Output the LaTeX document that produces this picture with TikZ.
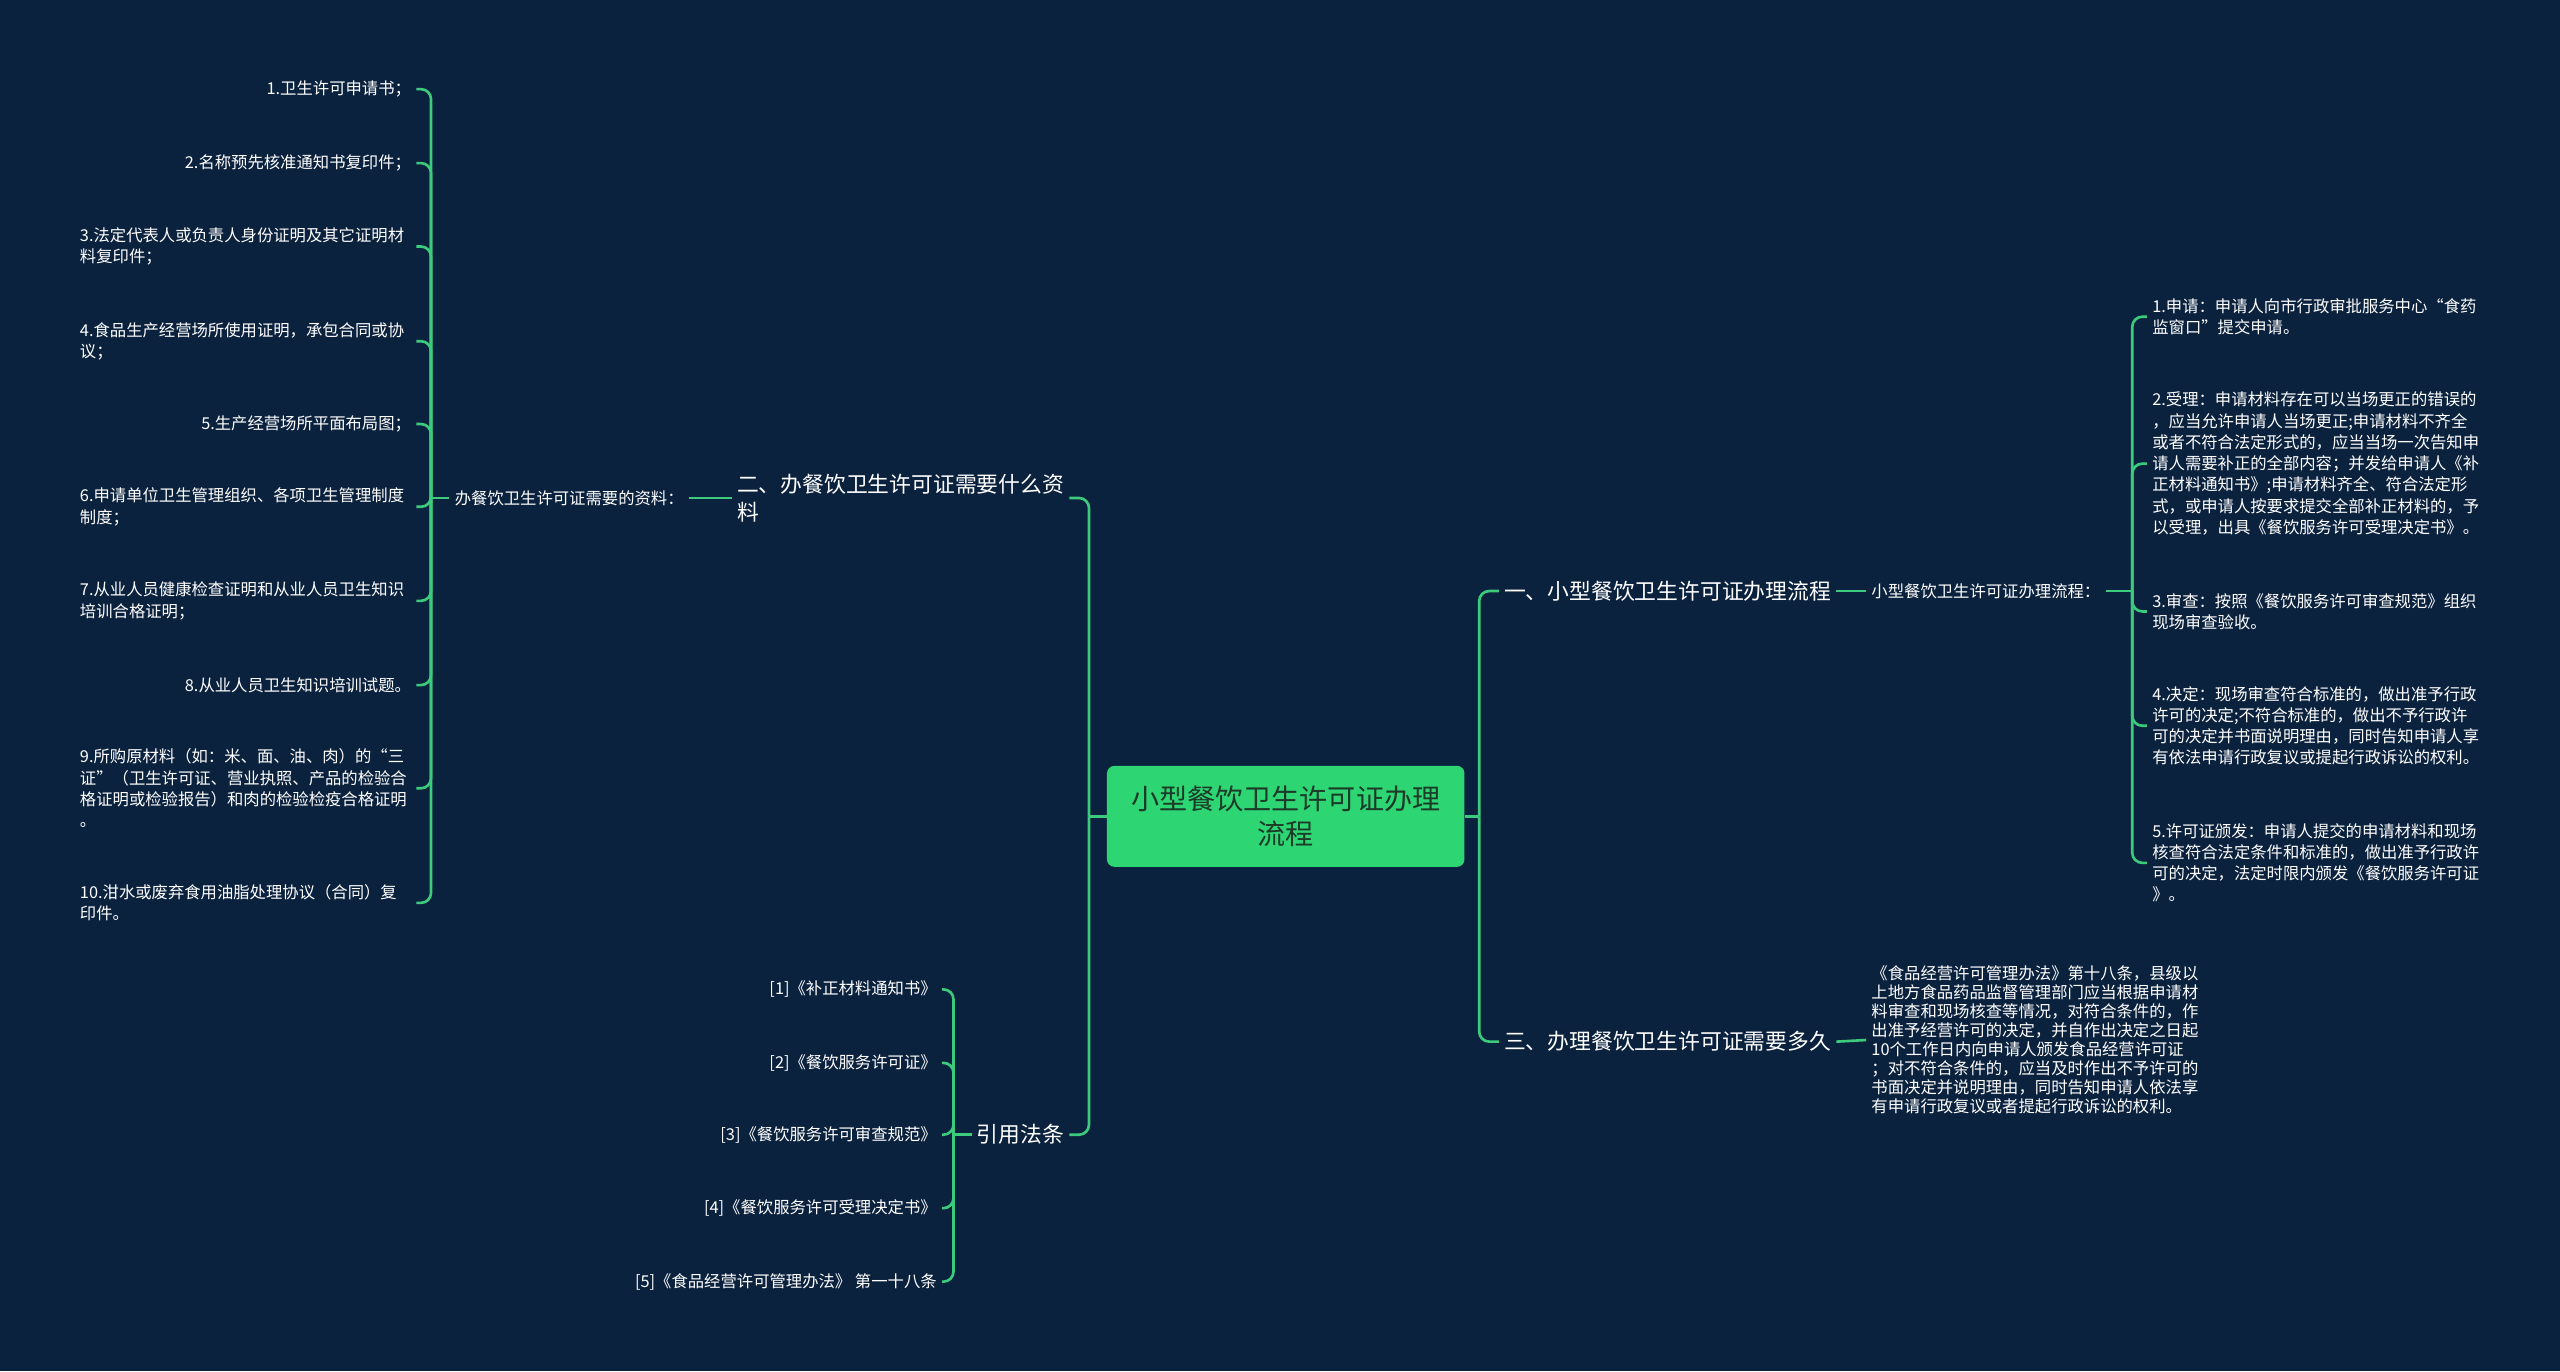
\documentclass[tikz,border=0pt]{standalone}
\usepackage{fontspec}
\setmainfont{Noto Sans CJK SC}
\usepackage{tikz}

\definecolor{bgnavy}{HTML}{0B223E}
\definecolor{rootgreen}{HTML}{2ED573}
\definecolor{linkgreen}{HTML}{3CCB7C}
\definecolor{roottext}{HTML}{1B3A28}

\begin{document}
\begin{tikzpicture}[x=0.032653cm, y=-0.032653cm,
    root/.style={rectangle, rounded corners=0.15cm, fill=rootgreen, text=roottext, align=center,
        minimum width=7.15cm, minimum height=2.02cm, font=\fontsize{16}{20.4}\selectfont},
    topic/.style={text=white, align=left, inner sep=0.1cm, font=\fontsize{12.4}{15.8}\selectfont},
    leaf/.style={text=white, align=left, inner sep=0.1cm, font=\fontsize{9.3}{12.1}\selectfont},
    wideleaf/.style={leaf, text width=6.62cm},
    link/.style={draw=linkgreen, line width=1.5pt, rounded corners=0.2cm}]

    % Background
    \fill[bgnavy] (0,0) rectangle (1568,840);
    \useasboundingbox (0,0) rectangle (1568,840);

    % Define root
    \node[root] (root) at (787.5,500) {小型餐饮卫生许可证办理\\流程};

    % Define right topics
    \node[topic, anchor=west] (r1) at (918,362) {一、小型餐饮卫生许可证办理流程};
    \node[topic, anchor=west] (r3) at (918,638) {三、办理餐饮卫生许可证需要多久};
    \node[leaf, anchor=west] (m1) at (1143,362) {小型餐饮卫生许可证办理流程：};
    \node[leaf, anchor=west, font=\fontsize{9.3}{10.8}\selectfont] (n3) at (1143,637)
        {《食品经营许可管理办法》第十八条，县级以\\上地方食品药品监督管理部门应当根据申请材\\料审查和现场核查等情况，对符合条件的，作\\出准予经营许可的决定，并自作出决定之日起\\10个工作日内向申请人颁发食品经营许可证\\；对不符合条件的，应当及时作出不予许可的\\书面决定并说明理由，同时告知申请人依法享\\有申请行政复议或者提起行政诉讼的权利。};

    % Define process steps
    \node[leaf, anchor=west] (a1) at (1315,194) {1.申请：申请人向市行政审批服务中心“食药\\监窗口”提交申请。};
    \node[leaf, anchor=west] (a2) at (1315,284) {2.受理：申请材料存在可以当场更正的错误的\\，应当允许申请人当场更正;申请材料不齐全\\或者不符合法定形式的，应当当场一次告知申\\请人需要补正的全部内容；并发给申请人《补\\正材料通知书》;申请材料齐全、符合法定形\\式，或申请人按要求提交全部补正材料的，予\\以受理，出具《餐饮服务许可受理决定书》。};
    \node[leaf, anchor=west] (a3) at (1315,374.5) {3.审查：按照《餐饮服务许可审查规范》组织\\现场审查验收。};
    \node[leaf, anchor=west] (a4) at (1315,444.5) {4.决定：现场审查符合标准的，做出准予行政\\许可的决定;不符合标准的，做出不予行政许\\可的决定并书面说明理由，同时告知申请人享\\有依法申请行政复议或提起行政诉讼的权利。};
    \node[leaf, anchor=west] (a5) at (1315,528.5) {5.许可证颁发：申请人提交的申请材料和现场\\核查符合法定条件和标准的，做出准予行政许\\可的决定，法定时限内颁发《餐饮服务许可证\\》。};

    % Define left topics
    \node[topic, anchor=east] (l1) at (655,305) {二、办餐饮卫生许可证需要什么资\\料};
    \node[topic, anchor=east] (l2) at (655,695) {引用法条};
    \node[leaf, anchor=east] (m2) at (422,305) {办餐饮卫生许可证需要的资料：};

    % Define materials
    \node[leaf, anchor=east] (b1) at (255,54.6) {1.卫生许可申请书；};
    \node[leaf, anchor=east] (b2) at (255,99.9) {2.名称预先核准通知书复印件；};
    \node[wideleaf, anchor=east] (b3) at (255,151) {3.法定代表人或负责人身份证明及其它证明材\\料复印件；};
    \node[wideleaf, anchor=east] (b4) at (255,209) {4.食品生产经营场所使用证明，承包合同或协\\议；};
    \node[leaf, anchor=east] (b5) at (255,259.7) {5.生产经营场所平面布局图；};
    \node[wideleaf, anchor=east] (b6) at (255,310.4) {6.申请单位卫生管理组织、各项卫生管理制度\\制度；};
    \node[wideleaf, anchor=east] (b7) at (255,368) {7.从业人员健康检查证明和从业人员卫生知识\\培训合格证明；};
    \node[leaf, anchor=east] (b8) at (255,419.6) {8.从业人员卫生知识培训试题。};
    \node[wideleaf, anchor=east] (b9) at (255,482.8) {9.所购原材料（如：米、面、油、肉）的“三\\证”（卫生许可证、营业执照、产品的检验合\\格证明或检验报告）和肉的检验检疫合格证明\\。};
    \node[wideleaf, anchor=east] (b10) at (255,553) {10.泔水或废弃食用油脂处理协议（合同）复\\印件。};

    % Define citations
    \node[leaf, anchor=east] (c1) at (577,606) {[1]《补正材料通知书》};
    \node[leaf, anchor=east] (c2) at (577,651) {[2]《餐饮服务许可证》};
    \node[leaf, anchor=east] (c3) at (577,695) {[3]《餐饮服务许可审查规范》};
    \node[leaf, anchor=east] (c4) at (577,740) {[4]《餐饮服务许可受理决定书》};
    \node[leaf, anchor=east] (c5) at (577,785) {[5]《食品经营许可管理办法》 第一十八条};

    % Trunk junctions
    \coordinate (jr) at (906,500);
    \coordinate (jl) at (667,500);
    \coordinate (jm1) at (1306,362);
    \coordinate (jm2) at (264,305);
    \coordinate (jc) at (584,695);

    % Draw edges
    \draw[link] (root.east) -- (jr);
    \draw[link] (jr) |- (r1.west);
    \draw[link] (jr) |- (r3.west);
    \draw[link] (r1.east) -- (m1.west);
    \draw[link] (r3.east) -- (n3.west);
    \draw[link] (m1.east) -- (jm1);
    \foreach \s in {a1,a2,a3,a4,a5}
        \draw[link] (jm1) |- (\s.west);

    \draw[link] (root.west) -- (jl);
    \draw[link] (jl) |- (l1.east);
    \draw[link] (jl) |- (l2.east);
    \draw[link] (l1.west) -- (m2.east);
    \draw[link] (m2.west) -- (jm2);
    \foreach \s in {b1,b2,b3,b4,b5,b6,b7,b8,b9,b10}
        \draw[link] (jm2) |- (\s.east);
    \draw[link] (l2.west) -- (jc);
    \foreach \s in {c1,c2,c3,c4,c5}
        \draw[link] (jc) |- (\s.east);
\end{tikzpicture}
\end{document}
